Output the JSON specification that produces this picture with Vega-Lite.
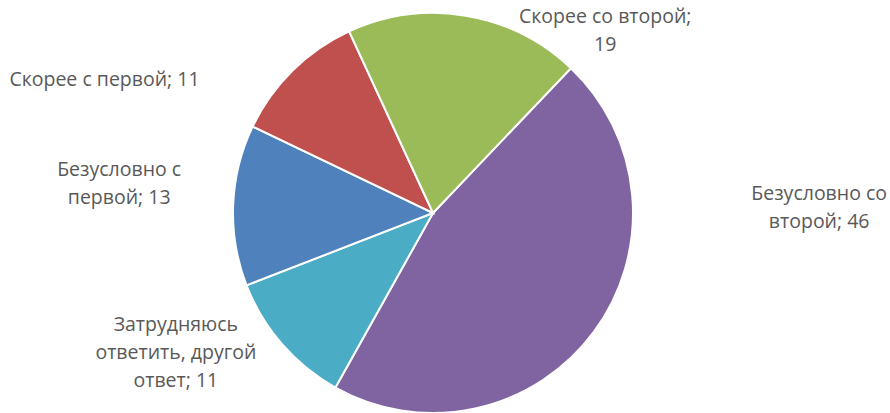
{
  "$schema": "https://vega.github.io/schema/vega-lite/v6.json",
  "autosize": "none",
  "width": 866,
  "height": 400,
  "padding": {"left": 0, "top": 13, "right": 24, "bottom": 0},
  "background": "white",
  "config": {"view": {"stroke": null}, "text": {"font": "Open Sans", "fontSize": 19.5, "color": "#595959"}},
  "data": {"values": [
    {"category": "Безусловно со второй", "value": 46, "order": 1},
    {"category": "Затрудняюсь ответить, другой ответ", "value": 11, "order": 2},
    {"category": "Безусловно с первой", "value": 13, "order": 3},
    {"category": "Скорее с первой", "value": 11, "order": 4},
    {"category": "Скорее со второй", "value": 19, "order": 5}
  ]},
  "transform": [
    {"window": [{"op": "sum", "field": "value", "as": "cum"}], "sort": [{"field": "order"}], "frame": [null, 0]},
    {"joinaggregate": [{"op": "sum", "field": "value", "as": "total"}]},
    {"calculate": "(datum.cum - datum.value / 2) / datum.total", "as": "midFrac"},
    {"calculate": "split(datum.category + '; ' + datum.value, ' ')", "as": "words"}
  ],
  "layer": [
    {
      "mark": {"type": "arc", "outerRadius": 200, "stroke": "white", "strokeWidth": 2},
      "encoding": {
        "theta": {"field": "value", "type": "quantitative", "stack": true, "scale": {"range": [0.761, 7.0442]}},
        "order": {"field": "order", "type": "quantitative"},
        "color": {"field": "category", "type": "nominal", "legend": null,
          "scale": {"domain": ["Безусловно со второй", "Затрудняюсь ответить, другой ответ", "Безусловно с первой", "Скорее с первой", "Скорее со второй"],
                    "range": ["#8064A2", "#4BACC6", "#4F81BD", "#C0504D", "#9BBB59"]}}
      }
    },
    {
      "transform": [{"filter": "datum.order == 1"}, {"calculate": "[join(slice(datum.words, 0, 2), ' '), join(slice(datum.words, 2), ' ')]", "as": "lines"}],
      "mark": {"type": "text", "radius": 240, "dx": 193, "dy": -161, "lineHeight": 28, "align": "center", "baseline": "middle"},
      "encoding": {"theta": {"field": "midFrac", "type": "quantitative", "scale": {"domain": [0, 1], "range": [0.761, 7.0442]}}, "text": {"field": "lines"}}
    },
    {
      "transform": [{"filter": "datum.order == 2"}, {"calculate": "[datum.words[0], join(slice(datum.words, 1, 3), ' '), join(slice(datum.words, 3), ' ')]", "as": "lines"}],
      "mark": {"type": "text", "radius": 240, "dx": -76, "dy": -45, "lineHeight": 28, "align": "center", "baseline": "middle"},
      "encoding": {"theta": {"field": "midFrac", "type": "quantitative", "scale": {"domain": [0, 1], "range": [0.761, 7.0442]}}, "text": {"field": "lines"}}
    },
    {
      "transform": [{"filter": "datum.order == 3"}, {"calculate": "[join(slice(datum.words, 0, 2), ' '), join(slice(datum.words, 2), ' ')]", "as": "lines"}],
      "mark": {"type": "text", "radius": 240, "dx": -74, "dy": -34, "lineHeight": 28, "align": "center", "baseline": "middle"},
      "encoding": {"theta": {"field": "midFrac", "type": "quantitative", "scale": {"domain": [0, 1], "range": [0.761, 7.0442]}}, "text": {"field": "lines"}}
    },
    {
      "transform": [{"filter": "datum.order == 4"}, {"calculate": "datum.category + '; ' + datum.value", "as": "line"}],
      "mark": {"type": "text", "radius": 240, "dx": -160, "dy": 38, "align": "center", "baseline": "middle"},
      "encoding": {"theta": {"field": "midFrac", "type": "quantitative", "scale": {"domain": [0, 1], "range": [0.761, 7.0442]}}, "text": {"field": "line", "type": "nominal"}}
    },
    {
      "transform": [{"filter": "datum.order == 5"}, {"calculate": "[join(slice(datum.words, 0, 3), ' '), join(slice(datum.words, 3), ' ')]", "as": "lines"}],
      "mark": {"type": "text", "radius": 240, "dx": 133, "dy": 41, "lineHeight": 28, "align": "center", "baseline": "middle"},
      "encoding": {"theta": {"field": "midFrac", "type": "quantitative", "scale": {"domain": [0, 1], "range": [0.761, 7.0442]}}, "text": {"field": "lines"}}
    }
  ],
  "resolve": {"scale": {"theta": "independent"}}
}
